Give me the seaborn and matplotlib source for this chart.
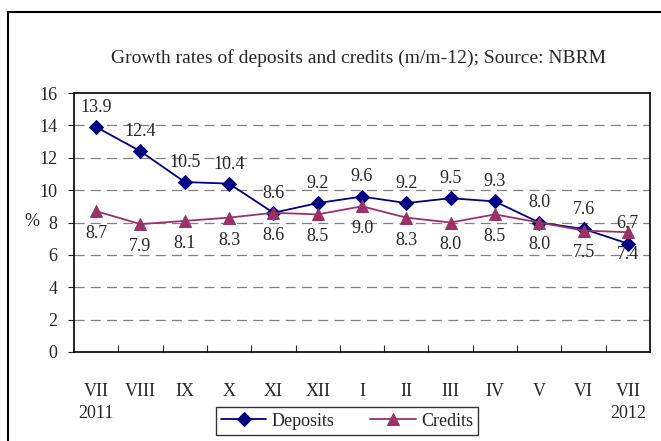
import numpy as np
import pandas as pd
import matplotlib
matplotlib.use("Agg")
import matplotlib.pyplot as plt
import matplotlib.transforms as mtransforms
from matplotlib.patches import Rectangle
import seaborn as sns

months   = ["VII", "VIII", "IX", "X", "XI", "XII", "I", "II", "III", "IV", "V", "VI", "VII"]
deposits = [13.9, 12.4, 10.5, 10.4, 8.6, 9.2, 9.6, 9.2, 9.5, 9.3, 8.0, 7.6, 6.7]
credits  = [8.7, 7.9, 8.1, 8.3, 8.6, 8.5, 9.0, 8.3, 8.0, 8.5, 8.0, 7.5, 7.4]
years    = ["2011", "2012"]

sns.set_style("white")
plt.rcParams["font.family"] = ["Liberation Serif", "DejaVu Serif"]

W, H = 661, 441
fig = plt.figure(figsize=(W / 100, H / 100), dpi=100)
ax = fig.add_axes([74 / W, (H - 352) / H, 576 / W, 259 / H])

x = np.arange(len(months))
df = pd.DataFrame({"x": x, "Deposits": deposits, "Credits": credits})

sns.lineplot(data=df, x="x", y="Deposits", ax=ax, color="#000080", lw=1.3,
             marker="D", markersize=7, markeredgecolor="#000080", label="Deposits")
sns.lineplot(data=df, x="x", y="Credits", ax=ax, color="#993366", lw=1.3,
             marker="^", markersize=9, markeredgecolor="#993366", label="Credits")

# data labels: deposits above, credits below
for xi, d, c in zip(x, deposits, credits):
    ax.annotate(f"{d:.1f}", (xi, d), xytext=(0, 8), textcoords="offset points",
                ha="center", va="bottom", fontsize=13)
    ax.annotate(f"{c:.1f}", (xi, c), xytext=(0, -10), textcoords="offset points",
                ha="center", va="top", fontsize=13)

ax.set_xlim(-0.5, len(months) - 0.5)
ax.set_ylim(0, 16)
ax.set_yticks(range(0, 17, 2))
ax.tick_params(axis="y", labelsize=13, length=4, direction="out", pad=8, left=True)
for yv in range(2, 16, 2):
    ax.axhline(yv, color="#808080", lw=0.9, ls=(0, (8, 5)), zorder=0)

# category labels on minor ticks, boundary tick marks inside
ax.set_xticks(np.arange(0.5, len(months) - 1, 1))
ax.set_xticklabels([])
ax.tick_params(axis="x", which="major", direction="in", length=5, bottom=True)
ax.set_xticks(x, minor=True)
ax.set_xticklabels(months, minor=True)
ax.tick_params(axis="x", which="minor", length=0, labelsize=13, pad=22)

trans = mtransforms.blended_transform_factory(ax.transData, fig.transFigure)
ax.text(x[0], (H - 413) / H, years[0], transform=trans, ha="center", va="center", fontsize=13)
ax.text(x[-1], (H - 413) / H, years[1], transform=trans, ha="center", va="center", fontsize=13)

ax.set_xlabel("")
ax.set_ylabel("")
fig.text(32 / W, (H - 222) / H, "%", ha="center", va="center", fontsize=13)

for s in ax.spines.values():
    s.set_color("black")
    s.set_linewidth(1.2)

fig.text(359 / W, (H - 58) / H, "Growth rates of deposits and credits (m/m-12); Source: NBRM",
         ha="center", va="center", fontsize=14)

leg = ax.legend(loc="center", bbox_to_anchor=(347 / W, (H - 421) / H),
                bbox_transform=fig.transFigure, ncol=2, frameon=True, fancybox=False,
                fontsize=13, handlelength=2.5, columnspacing=2.0, borderpad=0.3,
                handletextpad=0.3)
leg.get_frame().set_edgecolor("black")
leg.get_frame().set_linewidth(1.0)

fig.patches.append(Rectangle((8 / W, -0.05), 1.1, (H - 12) / H + 0.05,
                             transform=fig.transFigure, fill=False,
                             edgecolor="black", lw=1.5))

fig.savefig("out.png", dpi=100)
